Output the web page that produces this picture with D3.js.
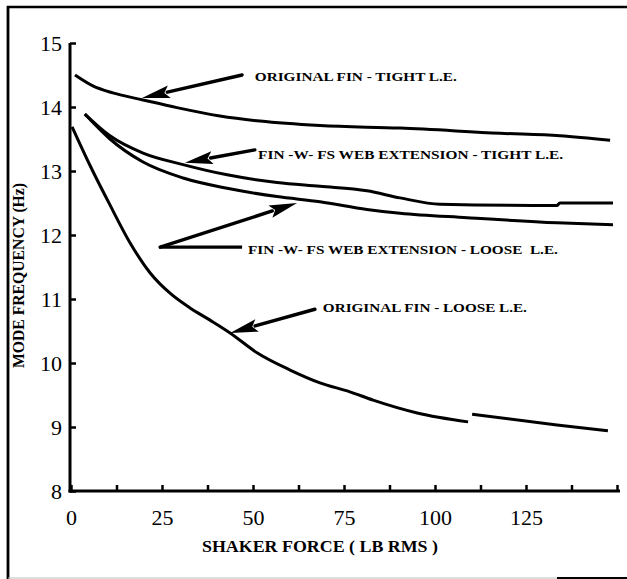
<!DOCTYPE html>
<html>
<head>
<meta charset="utf-8">
<script src="https://cdn.jsdelivr.net/npm/d3@7"></script>
<style>
  html, body { margin: 0; padding: 0; background: #fff; }
  svg { display: block; }
</style>
</head>
<body>
<svg id="chart" width="627" height="579"></svg>
<script>
// Mode frequency (Hz) versus shaker force (lb RMS), pairs of [force, frequency]
const originalTight = [
  [1.1, 14.50], [6.0, 14.33], [11.5, 14.22], [19.8, 14.11], [29.1, 13.99],
  [40.9, 13.86], [51.9, 13.78], [68.4, 13.71], [90.4, 13.67], [117.9, 13.59],
  [134.3, 13.55], [148.1, 13.48]
];
const webTight = [
  [3.8, 13.89], [10.7, 13.55], [19.8, 13.28], [30.8, 13.10], [42.9, 12.94],
  [56.6, 12.82], [68.4, 12.76], [81.3, 12.69], [90.4, 12.58], [101.4, 12.48],
  [133.5, 12.46], [134.3, 12.50], [148.9, 12.50]
];
const webLoose = [
  [3.8, 13.89], [10.7, 13.50], [19.8, 13.14], [30.8, 12.89], [42.9, 12.73],
  [56.6, 12.60], [68.4, 12.52], [81.3, 12.40], [90.4, 12.34], [108.8, 12.27],
  [133.5, 12.19], [148.9, 12.16]
];
// null marks the break in the trace
const originalLoose = [
  [0.3, 13.69], [5.2, 13.09], [10.7, 12.47], [16.2, 11.88], [21.7, 11.41],
  [27.2, 11.09], [32.7, 10.86], [38.2, 10.67], [43.7, 10.47], [51.1, 10.16],
  [60.2, 9.89], [68.4, 9.69], [76.6, 9.55], [83.0, 9.42], [95.1, 9.22],
  [109.1, 9.08], null, [110.2, 9.20], [133.5, 9.03], [147.5, 8.94]
];

const xTickValues = [0, 12.5, 25, 37.5, 50, 62.5, 75, 87.5, 100, 112.5, 125, 137.5, 150];
const xTickLabels = ["0", "", "25", "", "50", "", "75", "", "100", "", "125", "", ""];
const yTickValues = [8, 9, 10, 11, 12, 13, 14, 15];

// Callout labels: text, anchor point [force, frequency], fitted width
const calloutTexts = [
  "ORIGINAL FIN - TIGHT L.E.",
  "FIN -W- FS WEB EXTENSION - TIGHT L.E.",
  "FIN -W- FS WEB EXTENSION - LOOSE  L.E.",
  "ORIGINAL FIN - LOOSE L.E."
];
const calloutAnchors = [[50.5, 14.41], [51.4, 13.19], [48.6, 11.70], [69.2, 10.80]];
const calloutWidths = [202, 305, 310, 204];

// Arrow polylines [from, to]; arrowhead at the last point
const arrowPaths = [
  [[47.0, 14.50], [19.5, 14.14]],
  [[50.5, 13.33], [31.3, 13.13]],
  [[24.5, 11.81], [62.1, 12.50]],
  [[67.0, 10.84], [43.7, 10.47]]
];
const plainLines = [
  [[24.5, 11.81], [47.0, 11.81]]
];

const FONT = "'Liberation Serif'";
const svg = d3.select("#chart");

const x = d3.scaleLinear().domain([0, 150]).range([71, 617]);
const y = d3.scaleLinear().domain([8, 15]).range([491, 43]);

// page frame
svg.append("line").attr("x1", 8).attr("x2", 8).attr("y1", 6).attr("y2", 579)
  .attr("stroke", "#000").attr("stroke-width", 2.8);
svg.append("line").attr("x1", 7).attr("x2", 627).attr("y1", 7).attr("y2", 7)
  .attr("stroke", "#000").attr("stroke-width", 2.6);
svg.append("line").attr("x1", 8).attr("x2", 557).attr("y1", 578).attr("y2", 578)
  .attr("stroke", "#bdbdbd").attr("stroke-width", 1);
svg.append("line").attr("x1", 557).attr("x2", 627).attr("y1", 578).attr("y2", 578)
  .attr("stroke", "#000").attr("stroke-width", 1.8);

// axes
const xAxis = d3.axisBottom(x)
  .tickValues(xTickValues)
  .tickFormat((d, i) => xTickLabels[i])
  .tickSizeInner(-6).tickSizeOuter(0).tickPadding(18);
const yAxis = d3.axisLeft(y)
  .tickValues(yTickValues)
  .tickFormat(d3.format("d"))
  .tickSizeInner(-6).tickSizeOuter(0).tickPadding(8);

const gx = svg.append("g").attr("transform", "translate(0,491)").call(xAxis);
const gy = svg.append("g").attr("transform", "translate(70,0)").call(yAxis);

[gx, gy].forEach(g => {
  g.attr("font-family", null).attr("font-size", null);
  g.select(".domain").attr("stroke", "#000").attr("stroke-width", 3);
  g.selectAll(".tick line").attr("stroke", "#000").attr("stroke-width", 2.5);
  g.selectAll(".tick text")
    .style("font-family", FONT)
    .style("font-size", "22px").attr("fill", "#000");
});
gx.select(".domain").attr("d", `M${x(0) - 2.5},0H620`);
gy.select(".domain").attr("d", `M0,${y(15)}V${y(8) + 1.5}`);

// axis titles
svg.append("text")
  .attr("x", 202).attr("y", 552)
  .style("font-family", FONT).style("font-size", "17px").style("font-weight", "bold")
  .attr("textLength", 236).attr("lengthAdjust", "spacingAndGlyphs")
  .text("SHAKER FORCE ( LB RMS )");
svg.append("text")
  .attr("transform", "translate(24,368) rotate(-90)")
  .style("font-family", FONT).style("font-size", "16px").style("font-weight", "bold")
  .attr("textLength", 185).attr("lengthAdjust", "spacingAndGlyphs")
  .text("MODE FREQUENCY (Hz)");

// data curves
const line = d3.line()
  .defined(d => d !== null)
  .x(d => x(d[0])).y(d => y(d[1]))
  .curve(d3.curveMonotoneX);

[originalTight, webTight, webLoose, originalLoose].forEach(series => {
  svg.append("path")
    .attr("d", line(series))
    .attr("fill", "none").attr("stroke", "#000")
    .attr("stroke-width", 3).attr("stroke-linecap", "butt").attr("stroke-linejoin", "round");
});

// callout lines and arrows
const straight = d3.line().x(d => x(d[0])).y(d => y(d[1]));
plainLines.forEach(p => {
  svg.append("path").attr("d", straight(p))
    .attr("fill", "none").attr("stroke", "#000").attr("stroke-width", 3.2);
});

const headLen = 28, headHalf = 6.5;
arrowPaths.forEach(p => {
  const [x0, y0] = [x(p[0][0]), y(p[0][1])];
  const [x1, y1] = [x(p[1][0]), y(p[1][1])];
  const dx = x1 - x0, dy = y1 - y0, len = Math.hypot(dx, dy);
  const ux = dx / len, uy = dy / len;
  const bx = x1 - ux * headLen, by = y1 - uy * headLen;
  svg.append("line")
    .attr("x1", x0).attr("y1", y0).attr("x2", bx + ux * 2).attr("y2", by + uy * 2)
    .attr("stroke", "#000").attr("stroke-width", 3.4).attr("stroke-linecap", "round");
  svg.append("path")
    .attr("d", `M${x1},${y1}L${bx - uy * headHalf},${by + ux * headHalf}L${bx + ux * 5},${by + uy * 5}L${bx + uy * headHalf},${by - ux * headHalf}Z`)
    .attr("fill", "#000");
});

// callout labels
calloutTexts.forEach((t, i) => {
  svg.append("text")
    .attr("x", x(calloutAnchors[i][0])).attr("y", y(calloutAnchors[i][1]))
    .style("font-family", FONT).style("font-size", "13.5px").style("font-weight", "bold")
    .attr("textLength", calloutWidths[i]).attr("lengthAdjust", "spacingAndGlyphs")
    .style("white-space", "pre")
    .text(t);
});
</script>
</body>
</html>
